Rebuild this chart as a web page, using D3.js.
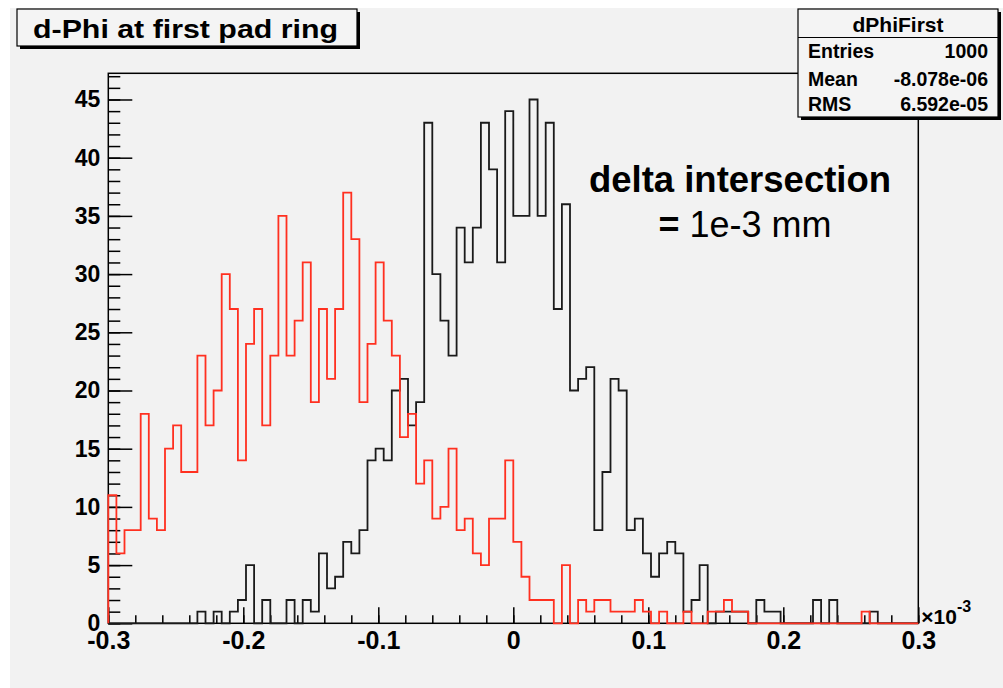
<!DOCTYPE html>
<html lang="en">
<head>
<meta charset="utf-8">
<title>d-Phi at first pad ring</title>
<script src="https://cdn.jsdelivr.net/npm/d3@7"></script>
<style>
	body { margin: 0; background: #ffffff; }
	text { font-family: "Liberation Sans", Arial, Helvetica, sans-serif; fill: #000; }
	.axis text { font-size: 23px; font-weight: bold; }
	.xaxis text { font-size: 25px; }
	.axis line { stroke: #000; stroke-width: 1.5px; }
	.stat { font-size: 19.5px; font-weight: bold; }
</style>
</head>
<body>
<svg id="canvas" width="1003" height="688"></svg>
<script>
// 100 bins from -0.3 to 0.3 (x10^-3)
var blackCounts = [
	0, 0, 0, 0, 0, 0, 0, 0, 0, 0,
	0, 1, 0, 1, 0, 1, 2, 5, 0, 2,
	0, 0, 2, 0, 2, 1, 6, 3, 4, 7,
	6, 8, 14, 15, 14, 20, 21, 17, 19, 43,
	30, 26, 23, 34, 31, 34, 43, 39, 31, 44,
	35, 35, 45, 35, 43, 27, 36, 20, 21, 22,
	8, 13, 21, 20, 8, 9, 6, 4, 6, 7,
	6, 1, 2, 5, 0, 1, 1, 1, 1, 0,
	2, 1, 1, 0, 0, 0, 0, 2, 0, 2,
	0, 0, 0, 0, 1, 0, 0, 0, 0, 0
];
var redCounts = [
	11, 6, 8, 8, 18, 9, 8, 15, 17, 13,
	13, 23, 17, 20, 30, 27, 14, 24, 27, 17,
	23, 35, 23, 26, 31, 19, 27, 21, 27, 37,
	33, 19, 24, 31, 26, 23, 16, 18, 12, 14,
	9, 10, 15, 8, 9, 6, 5, 9, 9, 14,
	7, 4, 2, 2, 2, 0, 5, 0, 2, 1,
	2, 2, 1, 1, 1, 2, 1, 0, 1, 0,
	0, 1, 0, 0, 1, 1, 2, 1, 1, 0,
	0, 0, 0, 0, 0, 0, 0, 0, 0, 0,
	0, 0, 0, 1, 0, 0, 0, 0, 0, 0
];
var xRange = [-0.3, 0.3];
var yMax = 47.25;
var xTickValues = [-0.3, -0.2, -0.1, 0, 0.1, 0.2, 0.3];
var xTickLabels = ["-0.3", "-0.2", "-0.1", "0", "0.1", "0.2", "0.3"];
var yTickValues = [0, 5, 10, 15, 20, 25, 30, 35, 40, 45];
var statNames = ["Entries", "Mean", "RMS"];
var statValues = ["1000", "-8.078e-06", "6.592e-05"];

var svg = d3.select('#canvas');
var frameL = 108.3, frameR = 918.3, frameT = 73.3, frameB = 623.3;

// pad background
svg.append('rect')
	.attr('x', 10).attr('y', 8)
	.attr('width', 993).attr('height', 680)
	.attr('fill', '#f2f2f2');

var xScale = d3.scaleLinear().domain(xRange).range([frameL, frameR]);
var yScale = d3.scaleLinear().domain([0, yMax]).range([frameB, frameT]);

// frame
svg.append('rect')
	.attr('x', frameL).attr('y', frameT)
	.attr('width', frameR - frameL).attr('height', frameB - frameT)
	.attr('fill', 'none')
	.attr('stroke', '#000')
	.attr('stroke-width', 1.5);

// x axis: major ticks with labels, minor ticks every 0.02
var xMinor = d3.range(0, 31).map(function(i){ return xRange[0] + i * 0.02; });
svg.append('g')
	.attr('class', 'axis')
	.attr('transform', 'translate(0,' + frameB + ')')
	.call(d3.axisBottom(xScale).tickValues(xMinor).tickSize(-8).tickFormat(''))
	.call(function(g){ g.select('.domain').remove(); });
svg.append('g')
	.attr('class', 'axis xaxis')
	.attr('transform', 'translate(0,' + frameB + ')')
	.call(d3.axisBottom(xScale).tickValues(xTickValues).tickSize(-16).tickPadding(8)
		.tickFormat(function(d, i){ return xTickLabels[i]; }))
	.call(function(g){ g.select('.domain').remove(); });

// y axis
svg.append('g')
	.attr('class', 'axis')
	.attr('transform', 'translate(' + frameL + ',0)')
	.call(d3.axisLeft(yScale).tickValues(d3.range(0, 48)).tickSize(-12).tickFormat(''))
	.call(function(g){ g.select('.domain').remove(); });
svg.append('g')
	.attr('class', 'axis')
	.attr('transform', 'translate(' + frameL + ',0)')
	.call(d3.axisLeft(yScale).tickValues(yTickValues).tickSize(-24).tickPadding(8))
	.call(function(g){ g.select('.domain').remove(); });

// x10^-3 multiplier
var mult = svg.append('text')
	.attr('x', frameR + 3).attr('y', frameB + 1)
	.style('font-size', '21px').style('font-weight', 'bold')
	.text('\u00d710');
mult.append('tspan')
	.attr('dy', -12)
	.style('font-size', '16px')
	.text('-3');

// histograms as step outlines
function stepPoints(counts)
{
	var w = (xRange[1] - xRange[0]) / counts.length;
	var pts = [[xRange[0], 0]];
	counts.forEach(function(c, i){
		pts.push([xRange[0] + i * w, c]);
	});
	pts.push([xRange[1], 0]);
	return pts;
}
var step = d3.line()
	.x(function(d){ return xScale(d[0]); })
	.y(function(d){ return yScale(d[1]); })
	.curve(d3.curveStepAfter);

svg.append('path')
	.attr('d', step(stepPoints(blackCounts)))
	.attr('fill', 'none')
	.attr('stroke', '#1a1a1a')
	.attr('stroke-width', 1.8);
svg.append('path')
	.attr('d', step(stepPoints(redCounts)))
	.attr('fill', 'none')
	.attr('stroke', '#ff3020')
	.attr('stroke-width', 1.8);

// title box
function paveBox(x, y, w, h)
{
	svg.append('rect')
		.attr('x', x + 3).attr('y', y + 3)
		.attr('width', w).attr('height', h)
		.attr('fill', '#000');
	svg.append('rect')
		.attr('x', x).attr('y', y)
		.attr('width', w).attr('height', h)
		.attr('fill', '#f4f4f4')
		.attr('stroke', '#000')
		.attr('stroke-width', 1.2);
}
paveBox(17, 9, 340, 37);
svg.append('text')
	.attr('x', 33).attr('y', 38)
	.attr('textLength', 305)
	.attr('lengthAdjust', 'spacingAndGlyphs')
	.style('font-size', '26px').style('font-weight', 'bold')
	.text('d-Phi at first pad ring');

// stats box
paveBox(798, 9, 200, 108);
svg.append('line')
	.attr('x1', 798).attr('x2', 998)
	.attr('y1', 37.5).attr('y2', 37.5)
	.attr('stroke', '#000').attr('stroke-width', 1.2);
svg.append('text')
	.attr('x', 898).attr('y', 32)
	.attr('text-anchor', 'middle')
	.style('font-size', '21px').style('font-weight', 'bold')
	.text('dPhiFirst');
var rowY = [58, 86, 111];
svg.selectAll('.statName')
	.data(statNames)
	.enter()
	.append('text')
	.attr('class', 'stat statName')
	.attr('x', 808)
	.attr('y', function(d, i){ return rowY[i]; })
	.text(function(d){ return d; });
svg.selectAll('.statValue')
	.data(statValues)
	.enter()
	.append('text')
	.attr('class', 'stat statValue')
	.attr('x', 988)
	.attr('y', function(d, i){ return rowY[i]; })
	.attr('text-anchor', 'end')
	.text(function(d){ return d; });

// annotation
svg.append('text')
	.attr('x', 740).attr('y', 192)
	.attr('text-anchor', 'middle')
	.style('font-size', '36.5px').style('font-weight', 'bold')
	.text('delta intersection');
var ann = svg.append('text')
	.attr('x', 745).attr('y', 237)
	.attr('text-anchor', 'middle')
	.style('font-size', '36px');
ann.append('tspan').style('font-weight', 'bold').text('= ');
ann.append('tspan').text('1e-3 mm');
</script>
</body>
</html>
